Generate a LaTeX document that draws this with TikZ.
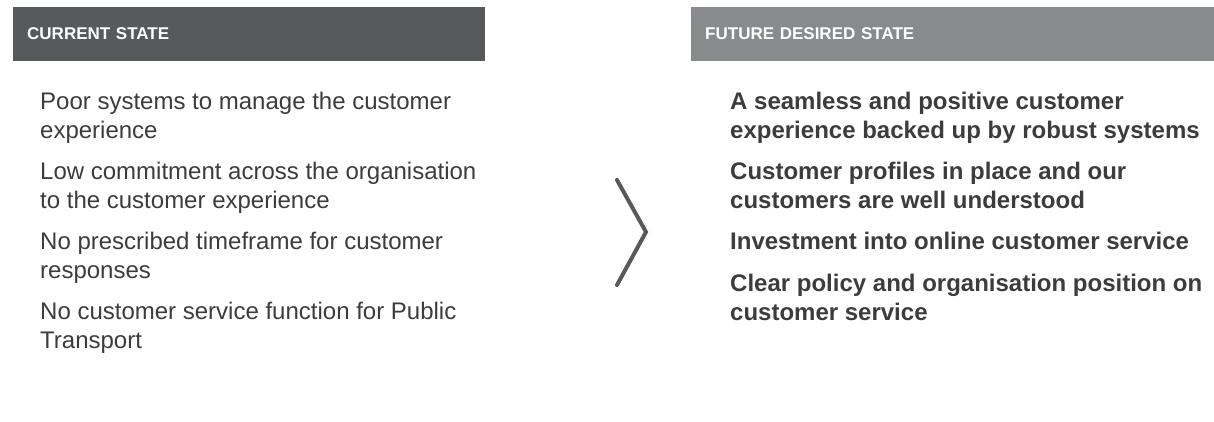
\documentclass[tikz,border=0pt]{standalone}
\usepackage{fontspec}
\setmainfont{Liberation Sans}
\usepackage{tikz}
\definecolor{bardark}{HTML}{58595B}
\definecolor{barlight}{HTML}{898A8D}
\definecolor{bodytext}{HTML}{3C3C3D}

\begin{document}
\begin{tikzpicture}[x=1bp,y=-1bp,
		headbar/.style={anchor=north west,inner xsep=14bp,inner ysep=0pt,minimum height=54bp,align=left,text=white,text depth=2bp,font=\bfseries\fontsize{17bp}{19bp}\selectfont},
		plainitem/.style={anchor=base west,inner sep=0pt,align=left,text=bodytext,font=\fontsize{24bp}{29bp}\selectfont},
		bolditem/.style={plainitem,font=\bfseries\fontsize{24bp}{29bp}\selectfont}]
	\useasboundingbox (0,0) rectangle (1214,421);

	% headers
	\node[headbar,fill=bardark,text width=444bp] (current) at (13,7) {CURRENT STATE};
	\node[headbar,fill=barlight,text width=495bp] (future) at (691,7) {FUTURE DESIRED STATE};

	% current state (placed at the baseline of the last line)
	\node[plainitem] (c1) at (40,138) {Poor systems to manage the customer\\experience};
	\node[plainitem] (c2) at (40,208) {Low commitment across the organisation\\to the customer experience};
	\node[plainitem] (c3) at (40,278) {No prescribed timeframe for customer\\responses};
	\node[plainitem] (c4) at (40,348) {No customer service function for Public\\Transport};

	% future desired state
	\node[bolditem] (f1) at (730,138) {A seamless and positive customer\\experience backed up by robust systems};
	\node[bolditem] (f2) at (730,208) {Customer profiles in place and our\\customers are well understood};
	\node[bolditem] (f3) at (730,249) {Investment into online customer service};
	\node[bolditem] (f4) at (730,320) {Clear policy and organisation position on\\customer service};

	% chevron
	\coordinate (top) at (617,180);
	\coordinate (tip) at (646,232);
	\coordinate (bottom) at (617,285);
	\draw[bardark,line width=4bp,line cap=round] (top) -- (tip) -- (bottom);
\end{tikzpicture}
\end{document}
